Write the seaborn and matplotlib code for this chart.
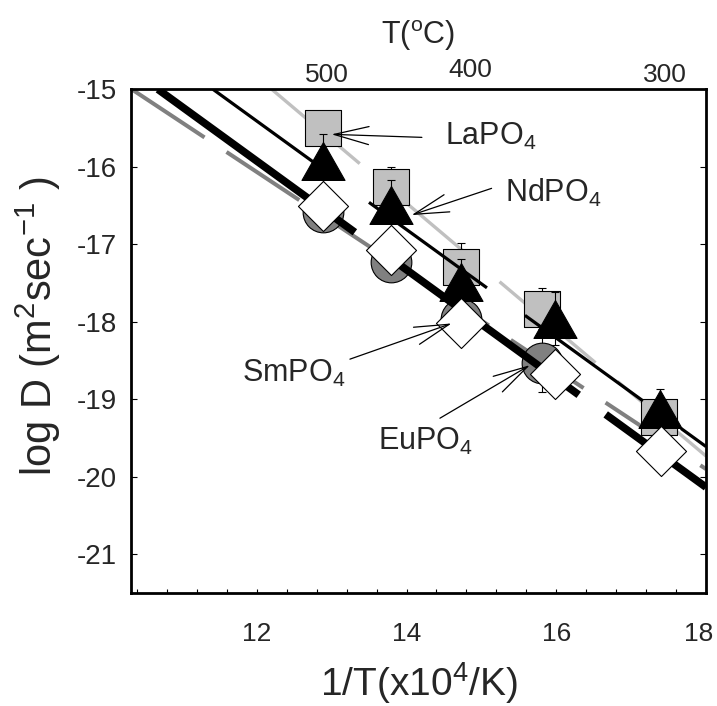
import numpy as np
import pandas as pd
import matplotlib
matplotlib.use("Agg")
import matplotlib.pyplot as plt
from matplotlib.path import Path
from matplotlib.transforms import ScaledTranslation
import seaborn as sns

# ---------------- data ----------------
# LaPO4 (grey squares)
la_x = [12.89, 13.79, 14.73, 15.81, 17.37]
la_y = [-15.50, -16.26, -17.29, -17.83, -19.23]
la_err = [0.20, 0.26, 0.31, 0.26, 0.20]
# NdPO4 (black triangles)
nd_x = [12.89, 13.79, 14.73, 15.98, 17.39]
nd_y = [-15.92, -16.49, -17.49, -17.96, -19.12]
nd_err = [0.34, 0.32, 0.30, 0.34, 0.25]
# EuPO4 (dark grey circles)
eu_x = [12.89, 13.79, 14.73, 15.81]
eu_y = [-16.58, -17.23, -17.96, -18.53]
eu_err = [0.20, 0.20, 0.20, 0.37]
# SmPO4 (white diamonds)
sm_x = [12.89, 13.79, 14.73, 15.98, 17.40]
sm_y = [-16.51, -17.07, -18.02, -18.67, -19.67]

# fitted Arrhenius lines (end points)
fit_la_x = [12.20, 18.0]
fit_la_y = [-15.0, -19.733]
fit_nd_x = [11.415, 18.0]
fit_nd_y = [-15.0, -19.61]
fit_sm_x = [10.68, 18.0]
fit_sm_y = [-15.0, -20.135]
fit_eu_x = [10.33, 18.0]
fit_eu_y = [-15.0, -19.90]

top_T = [500, 400, 300]
y_ticks = [-15, -16, -17, -18, -19, -20, -21]
x_ticks = [12, 14, 16, 18]

# ---------------- style ----------------
sns.set_theme(style="white")
plt.rcParams["font.family"] = ["Liberation Sans", "DejaVu Sans"]
plt.rcParams["mathtext.fontset"] = "custom"
plt.rcParams["mathtext.rm"] = "Liberation Sans"
plt.rcParams["mathtext.default"] = "regular"
plt.rcParams["axes.unicode_minus"] = False
plt.rcParams["lines.scale_dashes"] = False

fig = plt.figure(figsize=(7.17, 7.06), dpi=100)
ax = fig.add_axes([0.1827, 0.160, 0.802, 0.7135])

# ---------------- fit lines ----------------
ax.plot(fit_la_x, fit_la_y, color="#c0c0c0", lw=2.4,
        linestyle=(7.5, (90.4, 20.7)), zorder=1)
ax.plot(fit_eu_x, fit_eu_y, color="#808080", lw=2.9,
        linestyle=(0, (62.8, 19.0)), zorder=1.5)
ax.plot(fit_nd_x, fit_nd_y, color="black", lw=2.3,
        linestyle=(0, (104.9, 33.8)), zorder=3)
ax.plot(fit_sm_x, fit_sm_y, color="black", lw=5.5,
        linestyle=(0, (175.2, 24.0)), zorder=3)

# ---------------- markers ----------------
tri = Path([(0, 0.88), (-1, -0.88), (1, -0.88), (0, 0.88)],
           [Path.MOVETO, Path.LINETO, Path.LINETO, Path.CLOSEPOLY])

ax.errorbar(la_x, la_y, yerr=la_err, fmt="none", ecolor="black",
            elinewidth=0.8, capsize=3, capthick=0.8, zorder=1.9)
sns.scatterplot(x=la_x, y=la_y, ax=ax, marker="s", s=697, color="#c0c0c0",
                edgecolor="black", linewidth=0.8, zorder=2)

ax.errorbar(eu_x, eu_y, yerr=eu_err, fmt="none", ecolor="black",
            elinewidth=0.8, capsize=3, capthick=0.8, zorder=2.4)
sns.scatterplot(x=eu_x, y=eu_y, ax=ax, marker="o", s=858, color="#808080",
                edgecolor="black", linewidth=0.8, zorder=2.5)

ax.errorbar(nd_x, nd_y, yerr=nd_err, fmt="none", ecolor="black",
            elinewidth=0.8, capsize=3, capthick=0.8, zorder=3.9)
sns.scatterplot(x=nd_x, y=nd_y, ax=ax, marker=tri, s=961, color="black",
                edgecolor="black", linewidth=0.8, zorder=4)

sns.scatterplot(x=sm_x, y=sm_y, ax=ax, marker="D", s=650, color="white",
                edgecolor="black", linewidth=0.8, zorder=5)

# ---------------- annotations ----------------
arrow = dict(arrowstyle="->,head_length=2.5,head_width=0.65", lw=0.9,
             color="black", mutation_scale=10, shrinkA=0, shrinkB=0)
ann_fs = 22
ax.annotate("", xy=(12.999, -15.581), xytext=(14.205, -15.62),
            arrowprops=arrow, zorder=6)
ax.text(14.512, -15.719, "LaPO$_4$", fontsize=ann_fs, va="baseline", ha="left")
ax.annotate("", xy=(14.068, -16.623), xytext=(15.136, -16.278),
            arrowprops=arrow, zorder=6)
ax.text(15.313, -16.451, "NdPO$_4$", fontsize=ann_fs, va="baseline", ha="left")
ax.annotate("", xy=(14.602, -18.021), xytext=(13.244, -18.482),
            arrowprops=arrow, zorder=6)
ax.text(11.798, -18.775, "SmPO$_4$", fontsize=ann_fs, va="baseline", ha="left")
ax.annotate("", xy=(15.647, -18.56), xytext=(14.446, -19.244),
            arrowprops=arrow, zorder=6)
ax.text(13.618, -19.657, "EuPO$_4$", fontsize=ann_fs, va="baseline", ha="left")

# ---------------- axes ----------------
ax.set_xlim(10.32, 18.0)
ax.set_ylim(-21.5, -15.0)
ax.set_xticks(x_ticks)
ax.set_xticklabels([str(v) for v in x_ticks])
ax.set_xticks(np.arange(10.4, 18.01, 0.4), minor=True)
ax.set_yticks(y_ticks)
ax.set_yticklabels([str(v) for v in y_ticks])

for sp in ax.spines.values():
    sp.set_linewidth(2.0)
    sp.set_color("black")
    sp.set_visible(True)

ax.tick_params(axis="y", which="both", direction="in", length=4.5, width=0.8,
               left=True, right=True, labelsize=20, pad=10, color="black")
ax.tick_params(axis="x", which="both", direction="in", length=3, width=0.8,
               bottom=True, top=False, labelsize=19, pad=21, color="black")

ax.set_xlabel("1/T(x10$^4$/K)", fontsize=28, labelpad=10)
ax.set_ylabel("log D (m$^2$sec$^{-1}$ )", fontsize=30)
ax.yaxis.set_label_coords(-0.118, 0.53)

# nudge the clipped "18" label slightly left
last = ax.xaxis.get_major_ticks()[-1].label1
last.set_transform(last.get_transform() + ScaledTranslation(-5 / 72, 0, fig.dpi_scale_trans))


def to_T(x):
    x = np.asarray(x, dtype=float)
    with np.errstate(divide="ignore"):
        return 1e4 / x - 273.15


def to_x(T):
    T = np.asarray(T, dtype=float)
    with np.errstate(divide="ignore"):
        return 1e4 / (T + 273.15)


sec = ax.secondary_xaxis("top", functions=(to_T, to_x))
sec.set_xticks(top_T)
sec.set_xticklabels([str(v) for v in top_T])
sec.tick_params(length=0, labelsize=19, pad=1.5)
sec.spines["top"].set_visible(False)
sec.set_xlabel("T($^o$C)", fontsize=22, labelpad=10)
# the "400" label sits a little higher in the original
mid = sec.xaxis.get_major_ticks()[1].label2
mid.set_transform(mid.get_transform() + ScaledTranslation(0, 4 / 72, fig.dpi_scale_trans))

fig.savefig("out.png", dpi=100)
